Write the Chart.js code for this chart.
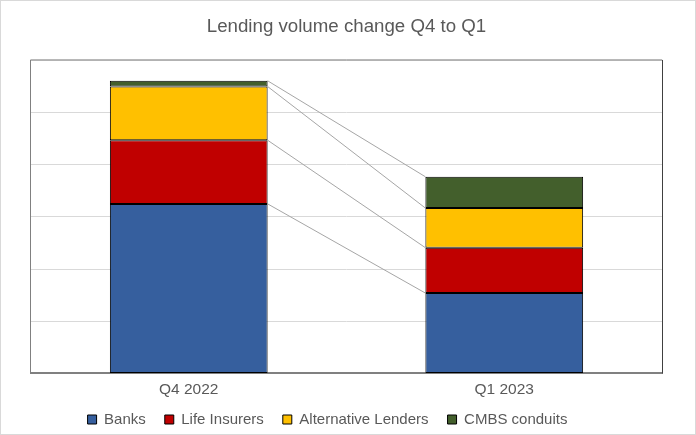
<!DOCTYPE html>
<html>
<head>
<meta charset="utf-8">
<script src="https://cdn.jsdelivr.net/npm/chart.js@4.4.1/dist/chart.umd.min.js"></script>
<style>
  html, body { margin: 0; padding: 0; background: #fff; }
  #wrap { width: 696px; height: 435px; position: relative; }
</style>
</head>
<body>
<div id="wrap"><canvas id="chart"></canvas></div>
<script>
const quarters = ["Q4 2022", "Q1 2023"];
const seriesNames = ["Banks", "Life Insurers", "Alternative Lenders", "CMBS conduits"];
const banks = [32.5, 15.4];
const lifeInsurers = [12.2, 8.7];
const alternativeLenders = [10.3, 7.6];
const cmbsConduits = [1.1, 6.0];
const seriesColors = ["#365F9E", "#C00000", "#FFC000", "#435F2C"];

const fontFamily = "'Liberation Sans', Arial, sans-serif";
const textColor = "#595959";

// grey connector lines between the tops of matching segments
const seriesLines = {
  id: "seriesLines",
  beforeDatasetsDraw(chart) {
    const ctx = chart.ctx;
    ctx.save();
    ctx.strokeStyle = "#A6A6A6";
    ctx.lineWidth = 1;
    chart.data.datasets.forEach((ds, i) => {
      const bars = chart.getDatasetMeta(i).data;
      ctx.beginPath();
      ctx.moveTo(bars[0].x + bars[0].width / 2, bars[0].y);
      ctx.lineTo(bars[1].x - bars[1].width / 2, bars[1].y);
      ctx.stroke();
    });
    ctx.restore();
  }
};

const frame = {
  id: "frame",
  afterLayout(chart) {
    // legend sits a bit left of centre in the original; its text starts a little higher
    chart.legend.left -= 19;
    chart.legend.right -= 19;
    chart.legend.top -= 13;
  },
  beforeDraw(chart) {
    const ctx = chart.ctx;
    ctx.save();
    ctx.fillStyle = "#fff";
    ctx.fillRect(0, 0, chart.width, chart.height);
    ctx.strokeStyle = "#D9D9D9";
    ctx.lineWidth = 1;
    ctx.strokeRect(0.5, 0.5, chart.width - 1, chart.height - 1);
    ctx.restore();
  },
  afterDatasetsDraw(chart) {
    const { left, top, right, bottom } = chart.chartArea;
    const ctx = chart.ctx;
    ctx.save();
    ctx.lineWidth = 1;
    ctx.strokeStyle = "#808080";
    ctx.beginPath();
    ctx.moveTo(left - 0.5, bottom);
    ctx.lineTo(left - 0.5, top - 0.5);
    ctx.lineTo(right, top - 0.5);
    ctx.stroke();
    ctx.strokeStyle = "#404040";
    ctx.beginPath();
    ctx.moveTo(right + 0.5, top - 0.5);
    ctx.lineTo(right + 0.5, bottom);
    ctx.stroke();
    ctx.restore();
  }
};

new Chart(document.getElementById("chart"), {
  type: "bar",
  data: {
    labels: quarters,
    datasets: [banks, lifeInsurers, alternativeLenders, cmbsConduits].map((values, i) => ({
      label: seriesNames[i],
      data: values,
      backgroundColor: seriesColors[i],
      borderColor: "#000",
      borderWidth: 1,
      borderSkipped: false,
      barPercentage: 0.5,
      categoryPercentage: 1
    }))
  },
  options: {
    responsive: true,
    maintainAspectRatio: false,
    devicePixelRatio: 1,
    animation: false,
    layout: { padding: { left: 31, right: 34, top: 0, bottom: 0 } },
    scales: {
      x: {
        stacked: true,
        grid: { display: false, drawTicks: false },
        border: { color: "#808080", width: 2 },
        ticks: { color: textColor, font: { family: fontFamily, size: 15.5 }, padding: 7 }
      },
      y: {
        stacked: true,
        min: 0,
        max: 60,
        grid: { color: "#D9D9D9", drawTicks: false },
        border: { display: false },
        ticks: { display: false, stepSize: 10 }
      }
    },
    plugins: {
      title: {
        display: true,
        text: "Lending volume change Q4 to Q1",
        color: textColor,
        font: { family: fontFamily, size: 18.7, weight: "normal" },
        padding: { top: 16, bottom: 22 }
      },
      legend: {
        position: "bottom",
        maxHeight: 29,
        labels: {
          color: textColor,
          font: { family: fontFamily, size: 15 },
          boxWidth: 9,
          boxHeight: 9,
          padding: 19
        }
      },
      tooltip: { enabled: false }
    }
  },
  plugins: [seriesLines, frame]
});
</script>
</body>
</html>
